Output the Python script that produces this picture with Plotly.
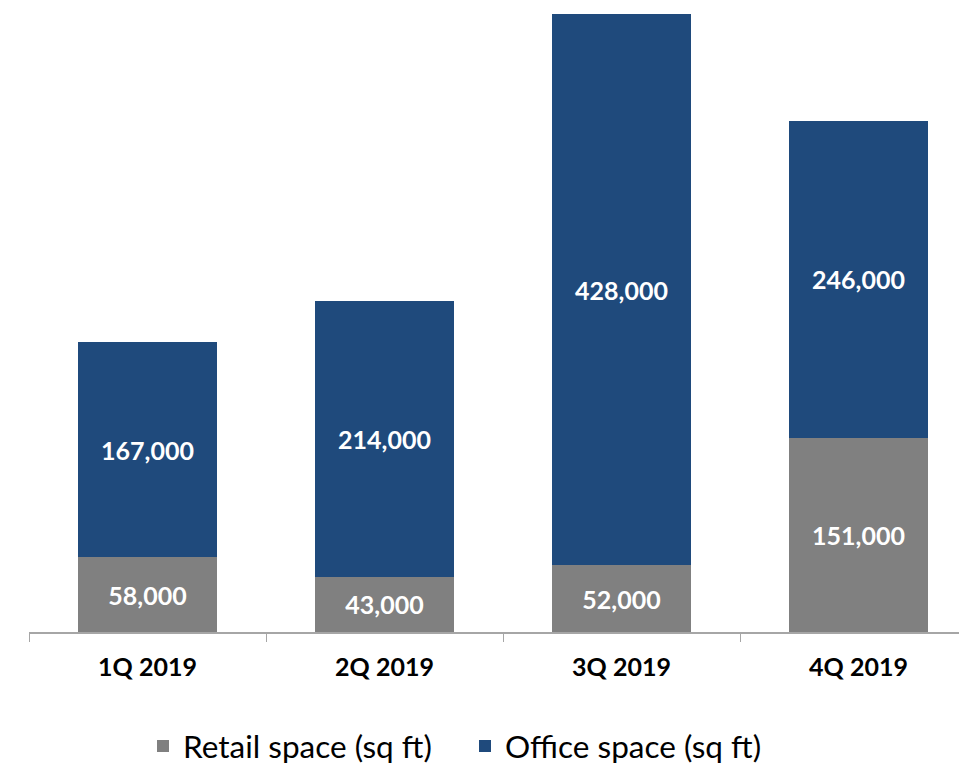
import plotly.graph_objects as go

categories = ["1Q 2019", "2Q 2019", "3Q 2019", "4Q 2019"]
retail = [58000, 43000, 52000, 151000]
office = [167000, 214000, 428000, 246000]

FONT = "Lato"
fig = go.Figure()
fig.add_trace(go.Bar(
    x=categories, y=retail, name="Retail space (sq ft)",
    marker=dict(color="#808080", line=dict(width=0)),
    texttemplate="%{y:,}", textposition="inside", insidetextanchor="middle",
    textfont=dict(color="white", size=25, family=FONT, weight="bold"),
    width=0.59,
))
fig.add_trace(go.Bar(
    x=categories, y=office, name="Office space (sq ft)",
    marker=dict(color="#1F4A7C", line=dict(width=0)),
    texttemplate="%{y:,}", textposition="inside", insidetextanchor="middle",
    textfont=dict(color="white", size=25, family=FONT, weight="bold"),
    width=0.59,
))

fig.update_layout(
    barmode="stack",
    width=959, height=766,
    margin=dict(l=29, r=0, t=14, b=134, autoexpand=False),
    paper_bgcolor="white", plot_bgcolor="white",
    showlegend=True,
    legend=dict(orientation="h", x=143/959, xanchor="left", xref="container",
                y=20/766, yanchor="middle", yref="container",
                font=dict(family=FONT, size=31.5, color="#000000"),
                traceorder="normal", itemwidth=30, tracegroupgap=0,
                entrywidth=277, entrywidthmode="pixels"),
    xaxis=dict(range=[-0.5, 3.5 - 18/237], showline=True, linecolor="#A6A6A6", linewidth=1.5,
               ticks="outside", tickson="boundaries", ticklen=8, tickcolor="#A6A6A6",
               tickfont=dict(family=FONT, size=25, color="black", weight="bold"),
               ticklabelstandoff=12, showgrid=False, automargin=False),
    yaxis=dict(range=[0, 480000], visible=False, showgrid=False, automargin=False),
)

fig.write_html("out.html")
